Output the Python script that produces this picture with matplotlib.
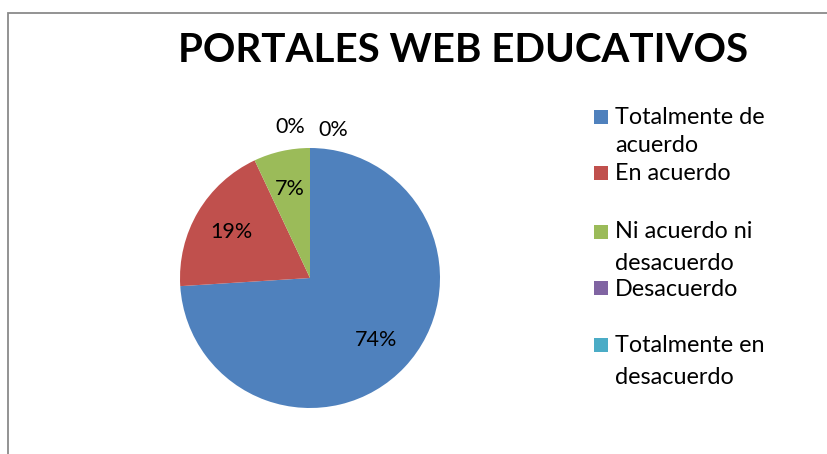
import matplotlib
matplotlib.use("Agg")
import matplotlib.pyplot as plt
from matplotlib.patches import Rectangle

categories = ["Totalmente de acuerdo", "En acuerdo", "Ni acuerdo ni desacuerdo",
              "Desacuerdo", "Totalmente en desacuerdo"]
values = [74, 19, 7, 0, 0]
colors = ["#4F81BD", "#C0504D", "#9BBB59", "#8064A2", "#4BACC6"]
legend_lines = [["Totalmente de", "acuerdo"], ["En acuerdo"], ["Ni acuerdo ni", "desacuerdo"],
                ["Desacuerdo"], ["Totalmente en", "desacuerdo"]]
title = "PORTALES WEB EDUCATIVOS"

W, H = 827, 454
fig = plt.figure(figsize=(W / 100, H / 100), dpi=100)
fig.patch.set_facecolor("white")
font = "Lato"

def fx(px):
    return px / W

def fy(py):
    return 1 - py / H

# chart frame (left and top edges visible)
fig.add_artist(Rectangle((fx(8), fy(H + 20)), fx(W + 20), (H + 7) / H,
                         transform=fig.transFigure, fill=False,
                         edgecolor="#8a8a8a", linewidth=1.3))

# pie
cx, cy, r = 310, 278, 130
ax = fig.add_axes([fx(cx - r), fy(cy + r), 2 * r / W, 2 * r / H])
wedges, texts, autotexts = ax.pie(values, colors=colors, startangle=90, counterclock=False,
                                  radius=1, autopct="%1.0f%%", pctdistance=0.7,
                                  textprops=dict(fontsize=15.5, family=font, color="black"))
ax.set_xlim(-1, 1)
ax.set_ylim(-1, 1)
ax.set_aspect("equal")
ax.axis("off")
zero_pos = [(-0.15, 1.16), (0.18, 1.14)]
k = 0
for t, v in zip(autotexts, values):
    if v == 0:
        t.set_position(zero_pos[k])
        k += 1

# title
fig.text(fx(463), fy(50), title, ha="center", va="center", fontsize=29,
         fontweight="bold", family=font)

# legend
marker_y = [117, 173, 232, 288, 345]
line_y = [[117, 146], [173], [232, 263], [289], [346, 378]]
for c, my, lines, ly in zip(colors, marker_y, legend_lines, line_y):
    fig.add_artist(Rectangle((fx(594), fy(my + 7)), fx(14), 14 / H,
                             transform=fig.transFigure, facecolor=c, edgecolor="none"))
    for txt, yy in zip(lines, ly):
        fig.text(fx(615), fy(yy), txt, ha="left", va="center", fontsize=16.8, family=font)

fig.savefig("out.png", dpi=100)
